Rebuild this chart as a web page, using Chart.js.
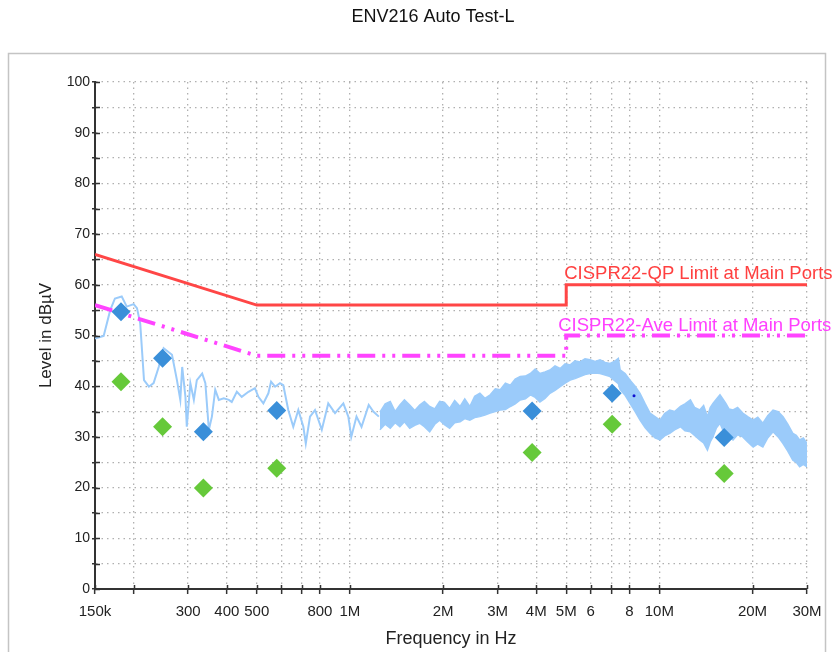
<!DOCTYPE html>
<html>
<head>
<meta charset="utf-8">
<title>ENV216 Auto Test-L</title>
<script src="https://cdn.jsdelivr.net/npm/chart.js@4.4.1/dist/chart.umd.min.js"></script>
<style>
  html, body { margin: 0; padding: 0; background: #fff; }
</style>
</head>
<body>
<canvas id="emi" width="833" height="652"></canvas>
<script>
// frequencies in MHz, levels in dBuV
const traceFreq = [0.150, 0.160, 0.168, 0.174, 0.183, 0.190, 0.200, 0.205, 0.210, 0.216, 0.224, 0.232, 0.241, 0.250, 0.266, 0.276, 0.283, 0.287, 0.294, 0.297, 0.305, 0.313, 0.320, 0.333, 0.341, 0.350, 0.358, 0.367, 0.377, 0.391, 0.406, 0.415, 0.431, 0.447, 0.470, 0.493, 0.506, 0.525, 0.545, 0.556, 0.573, 0.594, 0.609, 0.632, 0.656, 0.681, 0.707, 0.720, 0.743, 0.771, 0.811, 0.851, 0.895, 0.952, 0.988, 1.01, 1.05, 1.09, 1.15, 1.19, 1.24];
const traceLevel = [49.4, 49.9, 55.0, 57.3, 57.7, 55.7, 56.2, 55.4, 52.4, 41.2, 39.9, 40.6, 43.8, 47.5, 46.2, 41.2, 37.3, 43.8, 37.9, 32.0, 40.6, 37.3, 41.2, 42.5, 40.6, 31.4, 34.0, 39.3, 37.3, 37.6, 37.3, 36.9, 38.9, 37.9, 38.9, 39.6, 37.9, 36.6, 38.6, 40.9, 39.9, 40.6, 40.2, 35.3, 32.0, 35.3, 32.0, 28.7, 34.0, 35.3, 31.4, 36.6, 34.7, 36.6, 34.0, 30.0, 34.0, 32.0, 36.3, 35.0, 34.0];

// above ~1.2 MHz the scan is a dense noisy band: upper and lower edge
const bandFreq = [1.25, 1.30, 1.35, 1.40, 1.45, 1.50, 1.56, 1.62, 1.68, 1.74, 1.81, 1.88, 1.95, 2.02, 2.10, 2.18, 2.27, 2.35, 2.44, 2.53, 2.63, 2.73, 2.84, 2.95, 3.06, 3.18, 3.30, 3.42, 3.55, 3.69, 3.83, 3.97, 4.11, 4.27, 4.43, 4.60, 4.78, 4.96, 5.15, 5.34, 5.54, 5.75, 5.97, 6.20, 6.43, 6.68, 6.93, 7.20, 7.37, 7.47, 7.75, 8.04, 8.35, 8.66, 9.00, 9.33, 9.68, 10.05, 10.4, 10.8, 11.2, 11.7, 12.1, 12.6, 13.0, 13.5, 13.9, 14.3, 14.6, 14.9, 15.3, 15.7, 16.0, 16.4, 16.8, 17.3, 17.9, 18.6, 19.3, 20.1, 20.8, 21.6, 22.4, 23.3, 24.2, 25.1, 26.0, 27.0, 27.7, 28.4, 29.2, 30];
const bandHigh = [34.9, 36.5, 37.0, 35.0, 36.3, 37.3, 36.3, 35.2, 36.3, 37.0, 36.0, 35.5, 37.0, 36.8, 35.6, 37.2, 36.0, 37.5, 36.0, 38.0, 38.6, 37.6, 38.3, 39.5, 39.3, 40.6, 40.2, 41.4, 41.9, 42.0, 42.5, 43.4, 42.5, 42.8, 43.2, 44.0, 43.5, 44.4, 44.2, 45.0, 44.8, 45.4, 45.2, 44.9, 45.2, 44.7, 44.5, 45.0, 45.5, 43.2, 42.5, 41.2, 40.0, 38.6, 36.5, 34.7, 34.0, 33.3, 34.6, 35.3, 35.0, 36.0, 36.5, 37.3, 35.8, 35.3, 36.2, 34.0, 35.8, 36.6, 37.5, 38.3, 37.6, 36.6, 35.5, 35.3, 35.8, 34.7, 34.0, 33.3, 33.9, 32.7, 34.2, 35.3, 35.0, 34.0, 32.5, 30.7, 30.3, 29.4, 29.8, 28.7];
const bandLow = [31.4, 32.5, 31.7, 32.8, 32.0, 33.0, 31.7, 32.3, 32.7, 32.0, 31.0, 32.5, 33.3, 32.4, 31.7, 32.8, 33.0, 33.6, 33.3, 33.8, 34.0, 34.3, 34.7, 35.0, 35.3, 35.4, 36.0, 36.5, 37.3, 37.5, 38.3, 37.8, 36.9, 37.6, 38.6, 39.2, 39.9, 40.6, 41.2, 41.5, 41.9, 42.3, 42.5, 42.6, 42.5, 42.2, 41.9, 41.0, 40.5, 39.3, 38.2, 36.6, 35.0, 33.3, 31.8, 30.7, 29.8, 29.4, 30.2, 30.7, 31.4, 32.0, 31.2, 31.0, 30.3, 29.4, 28.8, 27.4, 29.0, 30.0, 31.8, 32.7, 31.5, 30.7, 30.0, 29.4, 30.4, 30.0, 29.0, 28.0, 28.6, 28.0, 29.8, 31.0, 30.0, 28.7, 27.2, 25.4, 25.0, 24.1, 24.6, 24.1];

// final measurements
const finalFreq = [0.182, 0.248, 0.336, 0.58, 3.88, 7.04, 16.2];
const qpLevel = [54.7, 45.5, 31.0, 35.2, 35.1, 38.6, 29.9];
const avLevel = [40.9, 32.0, 19.9, 23.8, 26.9, 32.5, 22.8];
const markerFreq = [8.28];
const markerLevel = [38.1];

// limits
const qpLimitFreq = [0.15, 0.5, 5, 5, 30];
const qpLimitLevel = [66, 56, 56, 60, 60];
const avLimitFreq = [0.15, 0.5, 5, 5, 30];
const avLimitLevel = [56, 46, 46, 50, 50];

const xTickValues = [0.15, 0.2, 0.3, 0.4, 0.5, 0.6, 0.7, 0.8, 1, 2, 3, 4, 5, 6, 7, 8, 10, 20, 30];
const xTickLabels = ['150k', '', '300', '400', '500', '', '', '800', '1M', '2M', '3M', '4M', '5M', '6', '', '8', '10M', '20M', '30M'];

const pts = (xs, ys) => xs.map((x, i) => ({ x: x, y: ys[i] }));

const FONT = '"Liberation Sans", Arial, sans-serif';
const traceColor = 'rgb(155, 203, 250)';

const decorations = {
  id: 'decorations',
  beforeDraw(chart) {
    const ctx = chart.ctx;
    ctx.save();
    ctx.fillStyle = '#fff';
    ctx.fillRect(0, 0, chart.width, chart.height);
    ctx.strokeStyle = '#c4c4c4';
    ctx.lineWidth = 1.5;
    ctx.strokeRect(8.5, 53.5, 817, 700);
    ctx.fillStyle = '#111';
    ctx.font = '18px ' + FONT;
    ctx.textAlign = 'center';
    ctx.textBaseline = 'middle';
    ctx.fillText('ENV216 Auto Test-L', 433, 17);
    ctx.restore();
  },
  afterDatasetsDraw(chart) {
    const { ctx, scales } = chart;
    ctx.save();
    ctx.font = '18.5px ' + FONT;
    ctx.textAlign = 'left';
    ctx.textBaseline = 'middle';
    ctx.fillStyle = '#ff4040';
    ctx.fillText('CISPR22-QP Limit at Main Ports', scales.x.getPixelForValue(5) - 2, scales.y.getPixelForValue(60) - 11);
    ctx.fillStyle = '#ff40ff';
    ctx.fillText('CISPR22-Ave Limit at Main Ports', scales.x.getPixelForValue(5) - 8, scales.y.getPixelForValue(50) - 10);
    ctx.restore();
  },
  afterDraw(chart) {
    // tick marks crossing into the plot area
    const { ctx, scales, chartArea } = chart;
    ctx.save();
    ctx.strokeStyle = '#333';
    ctx.lineWidth = 1.5;
    ctx.beginPath();
    scales.y.ticks.forEach(t => {
      const y = Math.round(scales.y.getPixelForValue(t.value)) + 0.5;
      ctx.moveTo(chartArea.left, y);
      ctx.lineTo(chartArea.left + 5, y);
    });
    scales.x.ticks.forEach(t => {
      const x = Math.round(scales.x.getPixelForValue(t.value)) + 0.5;
      ctx.moveTo(x, chartArea.bottom);
      ctx.lineTo(x, chartArea.bottom - 4);
    });
    ctx.stroke();
    ctx.restore();
  }
};

new Chart(document.getElementById('emi'), {
  type: 'line',
  data: {
    datasets: [
      {
        label: 'QP',
        data: pts(finalFreq, qpLevel),
        showLine: false,
        pointStyle: 'rectRot',
        pointRadius: 9.5,
        backgroundColor: '#3a8fd9',
        borderColor: '#3a8fd9',
        borderWidth: 0,
        order: 0
      },
      {
        label: 'AV',
        data: pts(finalFreq, avLevel),
        showLine: false,
        pointStyle: 'rectRot',
        pointRadius: 9.5,
        backgroundColor: '#66c93a',
        borderColor: '#66c93a',
        borderWidth: 0,
        order: 0
      },
      {
        label: 'marker',
        data: pts(markerFreq, markerLevel),
        showLine: false,
        pointRadius: 1.5,
        backgroundColor: '#1010d0',
        borderColor: '#1010d0',
        borderWidth: 0,
        order: 0
      },
      {
        label: 'CISPR22-QP Limit at Main Ports',
        data: pts(qpLimitFreq, qpLimitLevel),
        borderColor: '#ff4646',
        borderWidth: 3,
        pointRadius: 0,
        tension: 0,
        order: 1
      },
      {
        label: 'CISPR22-Ave Limit at Main Ports',
        data: pts(avLimitFreq, avLimitLevel),
        borderColor: '#ff44ff',
        borderWidth: 4,
        borderDash: [18, 7, 3, 7, 3, 7],
        pointRadius: 0,
        tension: 0,
        order: 1
      },
      {
        label: 'Scan',
        data: pts(traceFreq, traceLevel),
        borderColor: traceColor,
        borderWidth: 2,
        pointRadius: 0,
        tension: 0,
        order: 2
      },
      {
        label: 'Scan high',
        data: pts(bandFreq, bandHigh),
        borderColor: traceColor,
        borderWidth: 1.5,
        pointRadius: 0,
        tension: 0,
        fill: false,
        order: 3
      },
      {
        label: 'Scan low',
        data: pts(bandFreq, bandLow),
        borderColor: traceColor,
        backgroundColor: traceColor,
        borderWidth: 1.5,
        pointRadius: 0,
        tension: 0,
        fill: '-1',
        order: 3
      }
    ]
  },
  options: {
    responsive: false,
    animation: false,
    devicePixelRatio: 1,
    layout: { padding: { top: 82, right: 26, bottom: 0, left: 0 } },
    plugins: {
      legend: { display: false },
      title: { display: false },
      tooltip: { enabled: false }
    },
    scales: {
      x: {
        type: 'logarithmic',
        min: 0.15,
        max: 30,
        afterBuildTicks: s => { s.ticks = xTickValues.map(v => ({ value: v })); },
        afterFit: s => { s.height = 63; },
        ticks: {
          autoSkip: false,
          maxRotation: 0,
          padding: 9,
          color: '#222',
          font: { family: FONT, size: 15 },
          callback: (v, i) => xTickLabels[i]
        },
        grid: {
          color: '#b0b0b0',
          lineWidth: 1.3,
          tickLength: 5,
          tickColor: '#333',
          tickWidth: 1.5
        },
        border: { color: '#333', width: 2, dash: [1.5, 4] },
        title: {
          display: true,
          text: 'Frequency in Hz',
          color: '#222',
          font: { family: FONT, size: 18 },
          padding: { top: 0, bottom: 2 }
        }
      },
      y: {
        min: 0,
        max: 100,
        afterFit: s => { s.width = 95; },
        ticks: {
          stepSize: 5,
          padding: 2,
          color: '#222',
          font: { family: FONT, size: 14 },
          callback: v => (v % 10 === 0 ? v : '')
        },
        grid: {
          color: '#b0b0b0',
          lineWidth: 1.3,
          tickLength: 3,
          tickColor: '#333',
          tickWidth: 1.5
        },
        border: { color: '#333', width: 2, dash: [1.5, 4] },
        title: {
          display: true,
          text: 'Level in dB\u00b5V',
          color: '#222',
          font: { family: FONT, size: 17 },
          padding: { top: 36, bottom: 0 }
        }
      }
    }
  },
  plugins: [decorations]
});
</script>
</body>
</html>
